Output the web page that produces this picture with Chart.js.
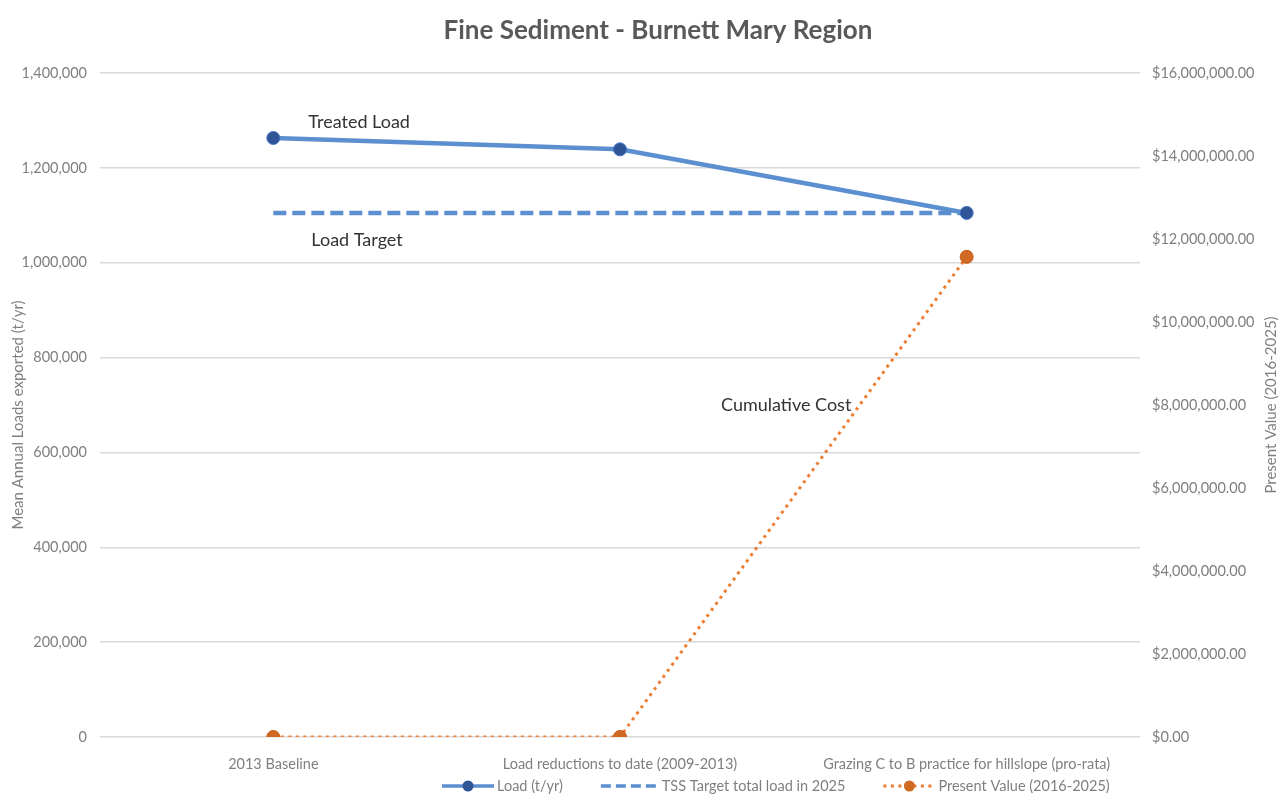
<!DOCTYPE html>
<html>
<head>
<meta charset="utf-8">
<script src="https://cdn.jsdelivr.net/npm/chart.js@4/dist/chart.umd.min.js"></script>
<style>
  html, body { margin: 0; padding: 0; background: #ffffff; }
  #wrap { width: 1280px; height: 794px; position: relative; }
</style>
</head>
<body>
<div id="wrap"><canvas id="chart" width="1280" height="794"></canvas></div>
<script>
// Categories along the x axis
const categories = [
  '2013 Baseline',
  'Load reductions to date (2009-2013)',
  'Grazing C to B practice for hillslope (pro-rata)'
];
// Mean annual fine sediment load (t/yr)
const loadValues = [1263000, 1239000, 1105000];
// TSS target total load in 2025 (t/yr)
const targetValues = [1105000, 1105000, 1105000];
// Cumulative present value of cost (2016-2025), $
const presentValues = [0, 0, 11570000];

const seriesNames = ['Load (t/yr)', 'TSS Target total load in 2025', 'Present Value (2016-2025)'];
const leftTitle = 'Mean Annual Loads exported (t/yr)';
const rightTitle = 'Present Value (2016-2025)';
const chartTitle = 'Fine Sediment - Burnett Mary Region';
// Callout labels: text, category index, value, axis, x/y offsets in px
const callouts = [
  { text: 'Treated Load', idx: 0, value: loadValues[0], axis: 'yLoad', dx: 35, dy: -16 },
  { text: 'Load Target', idx: 0, value: targetValues[0], axis: 'yLoad', dx: 38, dy: 27 },
  { text: 'Cumulative Cost', idx: 1, value: 8000000, axis: 'yCost', dx: 101, dy: 0 }
];

const FONT = 'Lato, "Open Sans", "DejaVu Sans", sans-serif';
const GREY = '#7f7f7f';
const BLUE = '#5b8fd0';
const BLUE_DARK = '#2f5597';
const ORANGE = '#ed7d31';
const ORANGE_DARK = '#d06a22';

// Legend swatch painters: a short line with an optional marker
function drawSwatch(ctx, x, y, w, kind) {
  ctx.save();
  ctx.lineWidth = 3.5;
  if (kind === 0) { ctx.strokeStyle = BLUE; ctx.setLineDash([]); }
  if (kind === 1) { ctx.strokeStyle = BLUE; ctx.setLineDash([10, 5]); }
  if (kind === 2) { ctx.strokeStyle = ORANGE; ctx.lineWidth = 3; ctx.setLineDash([3, 4.5]); }
  ctx.beginPath(); ctx.moveTo(x, y); ctx.lineTo(x + w, y); ctx.stroke();
  ctx.setLineDash([]);
  if (kind !== 1) {
    ctx.fillStyle = kind === 0 ? BLUE_DARK : ORANGE_DARK;
    ctx.beginPath(); ctx.arc(x + w / 2, y, 5.5, 0, Math.PI * 2); ctx.fill();
  }
  ctx.restore();
}

const overlay = {
  id: 'overlay',
  afterDraw(chart) {
    const ctx = chart.ctx;
    const area = chart.chartArea;
    ctx.save();
    // Title
    ctx.fillStyle = '#595959';
    ctx.font = 'bold 26px ' + FONT;
    ctx.textAlign = 'center'; ctx.textBaseline = 'middle';
    ctx.fillText(chartTitle, 658, 31);

    // Callouts anchored to data values
    ctx.fillStyle = '#333333';
    ctx.font = '18px ' + FONT;
    ctx.textAlign = 'left';
    const xs = chart.scales.x;
    callouts.forEach(c => {
      const px = xs.getPixelForValue(c.idx) + c.dx;
      const py = chart.scales[c.axis].getPixelForValue(c.value) + c.dy;
      ctx.fillText(c.text, px, py);
    });

    // Legend
    ctx.font = '14.5px ' + FONT;
    ctx.fillStyle = GREY;
    let lx = 442;
    const ly = 786;
    const sw = [52, 58, 52];
    seriesNames.forEach((n, i) => {
      drawSwatch(ctx, lx, ly, sw[i], i);
      lx += sw[i] + 3;
      ctx.fillText(n, lx, ly);
      lx += ctx.measureText(n).width + 38;
    });

    // Axis titles, both reading bottom to top
    ctx.font = '15px ' + FONT;
    ctx.textAlign = 'center';
    const cy = (area.top + area.bottom) / 2;
    ctx.save();
    ctx.translate(18, cy + 10);
    ctx.rotate(-Math.PI / 2);
    ctx.fillText(leftTitle, 0, 0);
    ctx.restore();
    ctx.save();
    ctx.translate(1271, cy);
    ctx.rotate(-Math.PI / 2);
    ctx.fillText(rightTitle, 0, 0);
    ctx.restore();
    ctx.restore();
  }
};

new Chart(document.getElementById('chart'), {
  type: 'line',
  data: {
    labels: categories,
    datasets: [
      {
        label: seriesNames[0], data: loadValues, yAxisID: 'yLoad',
        borderColor: BLUE, borderWidth: 4.5, pointRadius: 6.5,
        pointBackgroundColor: BLUE_DARK, pointBorderColor: '#4472c4', pointBorderWidth: 1,
        tension: 0, order: 2
      },
      {
        label: seriesNames[1], data: targetValues, yAxisID: 'yLoad',
        borderColor: BLUE, borderWidth: 4.5, borderDash: [13, 6], pointRadius: 0,
        tension: 0, order: 3
      },
      {
        label: seriesNames[2], data: presentValues, yAxisID: 'yCost',
        borderColor: ORANGE, borderWidth: 3, borderDash: [3, 4.5], pointRadius: 6.5,
        pointBackgroundColor: ORANGE_DARK, pointBorderColor: '#c55a11', pointBorderWidth: 1,
        tension: 0, order: 1
      }
    ]
  },
  options: {
    responsive: false,
    animation: false,
    layout: { padding: { top: 73, left: 0, right: 0, bottom: 0 } },
    plugins: {
      title: { display: false },
      legend: { display: false },
      tooltip: { enabled: false }
    },
    scales: {
      x: {
        offset: true,
        grid: { display: false, drawTicks: false },
        border: { display: false },
        ticks: { color: GREY, font: { family: FONT, size: 14.5 }, padding: 19, maxRotation: 0, autoSkip: false },
        afterFit(s) { s.height = 57; }
      },
      yLoad: {
        position: 'left', min: 0, max: 1400000,
        ticks: {
          stepSize: 200000, color: GREY, font: { family: FONT, size: 14.5 }, padding: 13,
          callback: v => v.toLocaleString('en-US')
        },
        grid: { color: '#d9d9d9', lineWidth: 1.5, drawTicks: false },
        border: { display: false },
        afterFit(s) { s.width = 100; }
      },
      yCost: {
        position: 'right', min: 0, max: 16000000,
        ticks: {
          stepSize: 2000000, color: GREY, font: { family: FONT, size: 14.5 }, padding: 12,
          callback: v => '$' + v.toLocaleString('en-US', { minimumFractionDigits: 2, maximumFractionDigits: 2 })
        },
        grid: { display: false, drawTicks: false },
        border: { display: false },
        afterFit(s) { s.width = 140; }
      }
    }
  },
  plugins: [overlay]
});
</script>
</body>
</html>
